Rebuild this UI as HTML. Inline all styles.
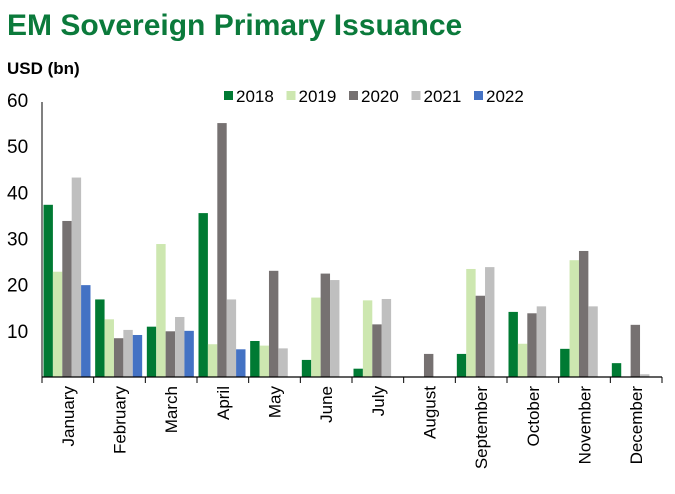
<!DOCTYPE html>
<html><head><meta charset="utf-8"><style>
body{margin:0;background:#fff;width:675px;height:489px;overflow:hidden;font-family:"Liberation Sans",Arial,sans-serif}
</style></head><body>
<svg width="675" height="489" xmlns="http://www.w3.org/2000/svg" font-family="Liberation Sans, Arial, sans-serif">
<text x="7" y="35" font-size="30" font-weight="bold" fill="#0b7a3b">EM Sovereign Primary Issuance</text>
<text x="7" y="74" font-size="17" font-weight="bold" fill="#000">USD (bn)</text>
<g id="legend"></g>
<g id="yaxis"></g>
<g id="bars"></g>
<g id="xaxis"></g>
</svg>
<script>
const months=["January","February","March","April","May","June","July","August","September","October","November","December"];
const seriesNames=["2018","2019","2020","2021","2022"];
const s2018=[37.3,16.8,10.9,35.5,7.8,3.7,1.8,0,5.0,14.1,6.1,3.0];
const s2019=[22.8,12.5,28.8,7.1,6.8,17.2,16.6,0,23.4,7.2,25.3,0];
const s2020=[33.8,8.4,9.9,55.0,23.0,22.4,11.4,5.0,17.6,13.8,27.3,11.3];
const s2021=[43.2,10.2,13.0,16.8,6.2,21.0,16.9,0,23.8,15.3,15.3,0.6];
const s2022=[19.9,9.1,10.0,6.0,0,0,0,0,0,0,0,0];
const yTicks=[10,20,30,40,50,60];
const colors=["#007a33","#cde7b0","#767171","#bfbfbf","#4472c4"];
const NS="http://www.w3.org/2000/svg";
const x0=42,x1=662,y0=377,yTop=100,yMax=60;
const gw=(x1-x0)/months.length;
const bw=9.4;
function y(v){return y0-(v/yMax)*(y0-yTop);}
function xg(i){return x0+i*gw;}
function mk(t,a,p){const e=document.createElementNS(NS,t);for(const k in a)e.setAttribute(k,a[k]);p.appendChild(e);return e;}
const all=[s2018,s2019,s2020,s2021,s2022];
const bars=document.getElementById('bars');
all.forEach((s,si)=>{s.forEach((v,i)=>{
 if(v<=0)return;
 const r=mk('rect',{x:xg(i)+1.5+si*bw,y:y(v),width:bw,height:y0-y(v),fill:colors[si]},bars);
 
 
});});
const ya=document.getElementById('yaxis');
const yl=mk('line',{x1:x0,y1:yTop+2,x2:x0,y2:y0,stroke:'#000','stroke-width':1},ya);


yTicks.forEach(t=>{
 const tx=mk('text',{x:7,y:y(t)+7,'font-size':19,fill:'#000'},ya);
 tx.textContent=t;
 
 
});
const xa=document.getElementById('xaxis');
const xl=mk('line',{x1:x0,y1:y0,x2:x1,y2:y0,stroke:'#000','stroke-width':1.3},xa);


for(let i=0;i<=months.length;i++){
 const tk=mk('line',{x1:xg(i),y1:y0,x2:xg(i),y2:y0+6,stroke:'#000','stroke-width':1},xa);
 
 
}
months.forEach((m,i)=>{
 const cx=xg(i)+gw/2+6;
 const tx=mk('text',{x:cx,y:386,'font-size':17,fill:'#000','text-anchor':'end',transform:`rotate(-90 ${cx} 386)`},xa);
 tx.textContent=m;
 
 
});
const lg=document.getElementById('legend');
seriesNames.forEach((n,i)=>{
 const lx=224+i*62.5;
 const g=mk('g',{},lg);
 
 
 mk('rect',{x:lx,y:91,width:9,height:9,fill:colors[i]},g);
 const t=mk('text',{x:lx+12,y:102,'font-size':17,fill:'#000'},g);
 t.textContent=n;
});
</script>
</body></html>
